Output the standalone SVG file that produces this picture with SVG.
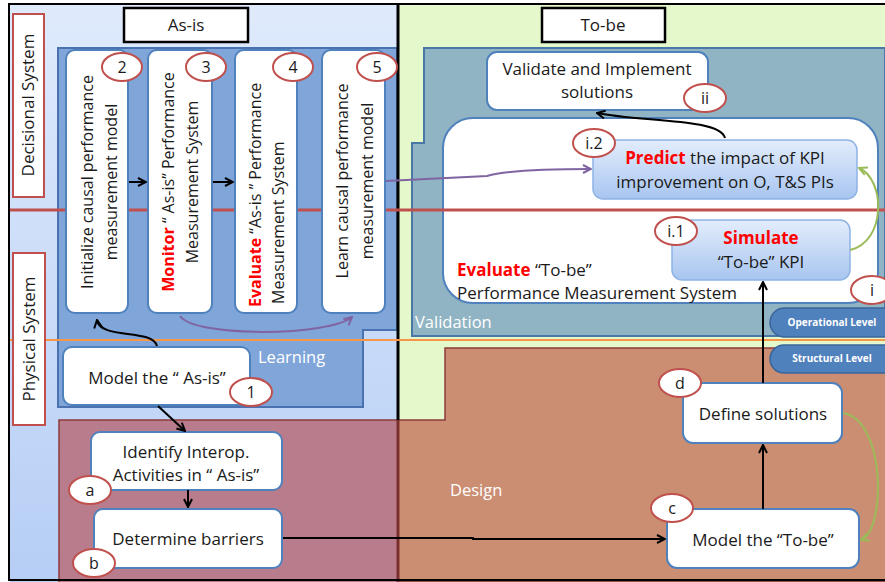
<svg xmlns="http://www.w3.org/2000/svg" width="885" height="582" viewBox="0 0 885 582">
<defs>
<linearGradient id="gLeft" x1="0" y1="0" x2="0" y2="1"><stop offset="0" stop-color="#dfeafc"/><stop offset="1" stop-color="#b6cef5"/></linearGradient>
<linearGradient id="gBlue" x1="0" y1="0" x2="0" y2="1"><stop offset="0" stop-color="#e3edfc"/><stop offset="1" stop-color="#a8c5f0"/></linearGradient>
<marker id="aBlack" viewBox="0 0 10 10" refX="9" refY="5" markerWidth="10" markerHeight="10" markerUnits="userSpaceOnUse" orient="auto"><path d="M1,1 L9,5 L1,9" fill="none" stroke="#000" stroke-width="2"/></marker>
<marker id="aPurple" viewBox="0 0 10 10" refX="9" refY="5" markerWidth="10" markerHeight="10" markerUnits="userSpaceOnUse" orient="auto"><path d="M1,1 L9,5 L1,9" fill="none" stroke="#8064a2" stroke-width="2"/></marker>
<marker id="aGreen" viewBox="0 0 10 10" refX="9" refY="5" markerWidth="10" markerHeight="10" markerUnits="userSpaceOnUse" orient="auto"><path d="M1,1 L9,5 L1,9" fill="none" stroke="#9bbb59" stroke-width="2"/></marker>
<style>
text{font-family:"Open Sans","DejaVu Sans",sans-serif;fill:#1a1a1a;}
.box{fill:#fff;stroke:#4f81bd;stroke-width:2;}
.gbox{fill:url(#gBlue);stroke:#8eb3e6;stroke-width:1.5;}
.num{fill:#fff;stroke:#c0504d;stroke-width:2;}
.t{font-size:17px;text-anchor:middle;}
.tv{font-size:16px;text-anchor:middle;}
.n{font-size:16px;text-anchor:middle;}
.red{fill:#ff0000;font-weight:bold;}
.wt{fill:#fff;font-size:16.5px;}
.lvl{fill:#4f81bd;stroke:#3a659a;stroke-width:1.5;}
.lt{fill:#fff;font-size:10px;font-weight:bold;text-anchor:middle;}
.blk{fill:none;stroke:#000;stroke-width:2;marker-end:url(#aBlack);}
.pur{fill:none;stroke:#8064a2;stroke-width:2;marker-end:url(#aPurple);}
.grn{fill:none;stroke:#9bbb59;stroke-width:2;marker-end:url(#aGreen);}
.lab{fill:#fff;stroke:#000;stroke-width:2.5;}
.sys{fill:#fff;stroke:#c0504d;stroke-width:2;}
</style>
</defs>

<g id="background">
<rect x="10" y="4" width="388" height="578" fill="url(#gLeft)"/>
<rect x="398" y="4" width="487" height="578" fill="#e5f8cb"/>
<polygon id="learning-region" points="58,48 397,48 397,330 363,330 363,407 58,407" fill="#7fa5d9" stroke="#4a72b0" stroke-width="2"/>
<polygon id="validation-region" points="424,48 885,48 885,336 412,336 412,143 424,143" fill="#90b4c3" stroke="#4a78a6" stroke-width="2"/>
<polygon id="design-region" points="445,348 886,348 886,582 398,582 398,420 445,420" fill="#cb8e73" stroke="#8c3b3b" stroke-width="1.5"/>
<rect id="asis-design-region" x="59" y="420" width="339" height="163" fill="#b87c8c" stroke="#8c3b3b" stroke-width="1.5"/>
<line x1="398" y1="4" x2="398" y2="420" stroke="#000" stroke-width="3"/>
<line x1="398" y1="420" x2="398" y2="582" stroke="#7a2e2e" stroke-width="3"/>
<rect x="9" y="4" width="880" height="576" fill="none" stroke="#000" stroke-width="2"/>
</g>

<g id="region-labels">
<text class="wt" x="258" y="363">Learning</text>
<text class="wt" x="415" y="328">Validation</text>
<text class="wt" x="450" y="496">Design</text>
</g>

<g id="asis-label"><rect class="lab" x="124" y="8" width="124" height="34"/><text class="t" x="186" y="31">As-is</text></g>
<g id="tobe-label"><rect class="lab" x="542" y="8" width="123" height="34"/><text class="t" x="603" y="31">To-be</text></g>

<g id="node-evaluate-tobe">
<rect class="box" x="443" y="118" width="435" height="185" rx="30"/>
<text x="457" y="276" font-size="17"><tspan class="red">Evaluate</tspan> “To-be”</text>
<text x="457" y="299" font-size="17">Performance Measurement System</text>
<ellipse class="num" cx="872" cy="290" rx="21" ry="14"/><text class="n" x="872" y="296">i</text>
</g>

<g id="dividers">
<line x1="10" y1="210" x2="885" y2="210" stroke="#c0504d" stroke-width="3"/>
<line x1="10" y1="340" x2="885" y2="340" stroke="#f79646" stroke-width="2"/>
</g>

<g id="decisional-system"><rect class="sys" x="13" y="14" width="31" height="183"/><text class="t" transform="translate(34,105) rotate(-90)">Decisional System</text></g>
<g id="physical-system"><rect class="sys" x="13" y="253" width="32" height="172"/><text class="t" transform="translate(35,339) rotate(-90)">Physical System</text></g>

<g id="node-2">
<rect class="box" x="66" y="50" width="62" height="263" rx="9"/>
<text class="tv" transform="translate(93,182) rotate(-90)">Initialize causal performance</text>
<text class="tv" transform="translate(117,182) rotate(-90)">measurement model</text>
<ellipse class="num" cx="122" cy="67" rx="20" ry="14"/><text class="n" x="122" y="73">2</text>
</g>
<g id="node-3">
<rect class="box" x="148" y="50" width="64" height="263" rx="9"/>
<text class="tv" transform="translate(174,182) rotate(-90)"><tspan class="red">Monitor</tspan> “ As-is” Performance</text>
<text class="tv" transform="translate(198,182) rotate(-90)">Measurement System</text>
<ellipse class="num" cx="206" cy="67" rx="20" ry="14"/><text class="n" x="206" y="73">3</text>
</g>
<g id="node-4">
<rect class="box" x="235" y="50" width="62" height="263" rx="9"/>
<text class="tv" style="text-anchor:start" transform="translate(261,307) rotate(-90)"><tspan class="red">Evaluate</tspan> “As-is ” Performance</text>
<text class="tv" style="text-anchor:start" transform="translate(284,304) rotate(-90)">Measurement System</text>
<ellipse class="num" cx="293" cy="67" rx="20" ry="14"/><text class="n" x="293" y="73">4</text>
</g>
<g id="node-5">
<rect class="box" x="322" y="50" width="63" height="263" rx="9"/>
<text class="tv" transform="translate(348,181) rotate(-90)">Learn causal performance</text>
<text class="tv" transform="translate(373,181) rotate(-90)">measurement model</text>
<ellipse class="num" cx="377" cy="67" rx="20" ry="14"/><text class="n" x="377" y="73">5</text>
</g>
<g id="node-1">
<rect class="box" x="63" y="347" width="187" height="58" rx="9"/>
<text class="t" x="157" y="384">Model the “ As-is”</text>
<ellipse class="num" cx="251" cy="392" rx="21" ry="14"/><text class="n" x="251" y="398">1</text>
</g>
<g id="node-a">
<rect class="box" x="91" y="432" width="191" height="58" rx="9"/>
<text class="t" x="186" y="458">Identify Interop.</text>
<text class="t" x="186" y="481">Activities in “ As-is”</text>
<ellipse class="num" cx="90" cy="490" rx="21" ry="14"/><text class="n" x="90" y="496">a</text>
</g>
<g id="node-b">
<rect class="box" x="94" y="509" width="188" height="59" rx="9"/>
<text class="t" x="188" y="545">Determine barriers</text>
<ellipse class="num" cx="94" cy="563" rx="21" ry="14"/><text class="n" x="94" y="569">b</text>
</g>
<g id="node-ii">
<rect class="box" x="487" y="52" width="221" height="58" rx="10"/>
<text class="t" x="597" y="75">Validate and Implement</text>
<text class="t" x="597" y="98">solutions</text>
<ellipse class="num" cx="705" cy="98" rx="21" ry="14"/><text class="n" x="705" y="104">ii</text>
</g>
<g id="node-i2">
<rect class="gbox" x="593" y="140" width="264" height="59" rx="10"/>
<text class="t" x="725" y="164"><tspan class="red">Predict</tspan> the impact of KPI</text>
<text class="t" x="725" y="188">improvement on O, T&amp;S PIs</text>
<ellipse class="num" cx="594" cy="143" rx="21" ry="14"/><text class="n" x="594" y="149">i.2</text>
</g>
<g id="node-i1">
<rect class="gbox" x="672" y="220" width="178" height="60" rx="10"/>
<text class="t red" x="761" y="244">Simulate</text>
<text class="t" x="761" y="268">“To-be” KPI</text>
<ellipse class="num" cx="676" cy="231" rx="21" ry="14"/><text class="n" x="676" y="237">i.1</text>
</g>
<g id="node-d">
<rect class="box" x="683" y="383" width="159" height="60" rx="10"/>
<text class="t" x="763" y="420">Define solutions</text>
<ellipse class="num" cx="680" cy="383" rx="21" ry="14"/><text class="n" x="680" y="389">d</text>
</g>
<g id="node-c">
<rect class="box" x="667" y="509" width="192" height="59" rx="10"/>
<text class="t" x="763" y="546">Model the “To-be”</text>
<ellipse class="num" cx="672" cy="508" rx="21" ry="14"/><text class="n" x="672" y="514">c</text>
</g>
<g id="node-operational"><rect class="lvl" x="770" y="308" width="130" height="29" rx="14.5"/><text class="lt" x="832" y="326">Operational Level</text></g>
<g id="node-structural"><rect class="lvl" x="770" y="345" width="130" height="28" rx="14"/><text class="lt" x="832" y="362">Structural Level</text></g>

<g id="connectors">
<path class="blk" d="M129,182 L146,182"/>
<path class="blk" d="M213,182 L233,182"/>
<path class="pur" d="M180,316 C195,338 330,336 352,317"/>
<path class="pur" d="M386,181 L487,176 C505,171 540,169 591,169"/>
<path class="blk" d="M157,346 C152,328 100,340 97,320"/>
<path class="blk" d="M158,406 L185,431"/>
<path class="blk" d="M188,490 L188,507"/>
<path class="blk" d="M283,538 L473,538 L473,539 L665,539"/>
<path class="blk" d="M763,509 L763,445"/>
<path class="blk" d="M763,383 L763,282"/>
<path class="blk" d="M725,138 C720,118 640,122 597,113"/>
<path class="grn" d="M850,250 C886,242 886,180 859,168"/>
<path class="grn" d="M843,413 C886,420 886,530 861,540"/>
</g>
</svg>
